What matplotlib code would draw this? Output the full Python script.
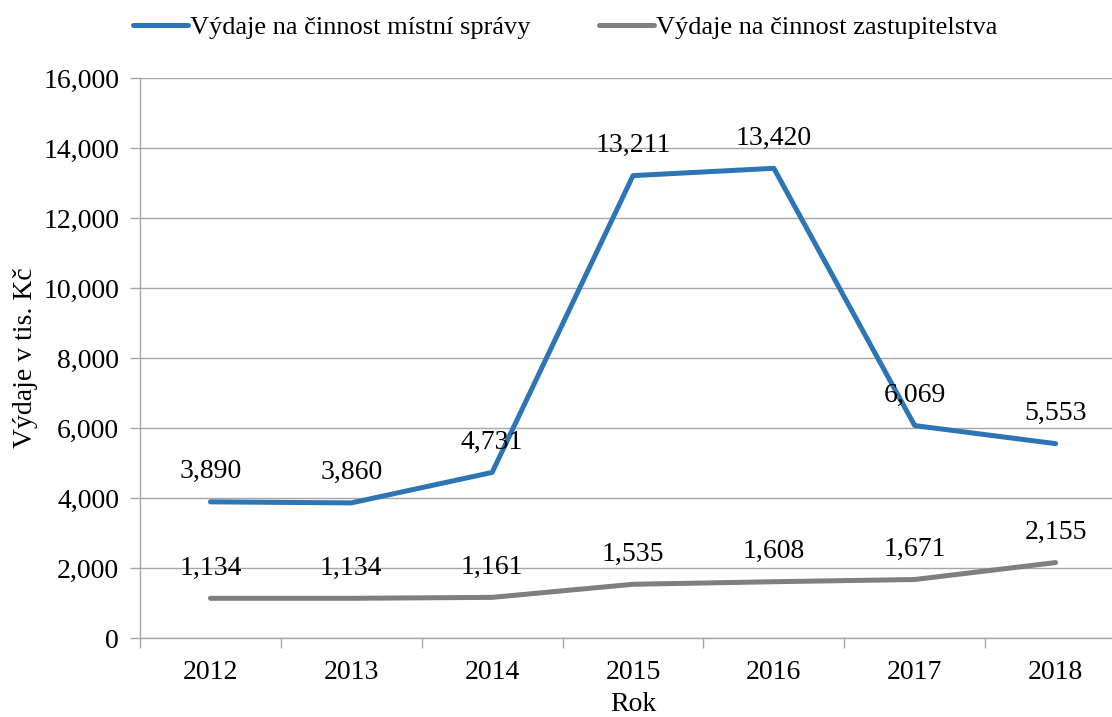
import matplotlib.pyplot as plt
from matplotlib.ticker import FuncFormatter

# Výdaje obce v tis. Kč
roky = ['2012', '2013', '2014', '2015', '2016', '2017', '2018']
sprava = [3890, 3860, 4731, 13211, 13420, 6069, 5553]
zastupitelstvo = [1134, 1134, 1161, 1535, 1608, 1671, 2155]

modra = '#2E75B6'
seda = '#7F7F7F'
mrizka = '#A6A6A6'

plt.rcParams['font.family'] = ['Liberation Serif', 'DejaVu Serif']
plt.rcParams['font.size'] = 20

fig = plt.figure(figsize=(11.12, 7.17), dpi=100)
ax = fig.add_axes([140/1112, 79/717, 986/1112, 560/717])

x = list(range(len(roky)))
ax.plot(x, sprava, color=modra, lw=3.6, label='Výdaje na činnost místní správy', solid_capstyle='round')
ax.plot(x, zastupitelstvo, color=seda, lw=3.6, label='Výdaje na činnost zastupitelstva', solid_capstyle='round')

for xi, v in zip(x, sprava):
    ax.annotate(f'{v:,}', (xi, v), xytext=(0, 17), textcoords='offset points',
                ha='center', va='baseline')
for xi, v in zip(x, zastupitelstvo):
    ax.annotate(f'{v:,}', (xi, v), xytext=(0, 17), textcoords='offset points',
                ha='center', va='baseline')

ax.set_xlim(-0.5, len(roky) - 0.5)
ax.set_ylim(0, 16000)
ax.set_yticks(range(0, 16001, 2000))
ax.yaxis.set_major_formatter(FuncFormatter(lambda v, p: f'{int(v):,}'))
ax.set_xticks(x)
ax.set_xticklabels(roky)
ax.set_xticks([i - 0.5 for i in range(len(roky) + 1)], minor=True)
ax.tick_params(axis='x', which='major', length=0, pad=16)
ax.tick_params(axis='x', which='minor', length=7, color=mrizka, width=1)
ax.tick_params(axis='y', length=7, color=mrizka, width=1, pad=8)

ax.grid(axis='y', color=mrizka, lw=1)
ax.set_axisbelow(True)
for s in ['top', 'right']:
    ax.spines[s].set_visible(False)
for s in ['left', 'bottom']:
    ax.spines[s].set_color(mrizka)
    ax.spines[s].set_linewidth(1)

ax.set_xlabel('Rok', labelpad=5)
ax.set_ylabel('Výdaje v tis. Kč', labelpad=4)

fig.legend(loc='center', bbox_to_anchor=(0.508, 0.962), ncol=2, frameon=False,
           handlelength=2.1, handletextpad=0.05, columnspacing=2.6, fontsize=19)

fig.savefig('out.png', dpi=100)
